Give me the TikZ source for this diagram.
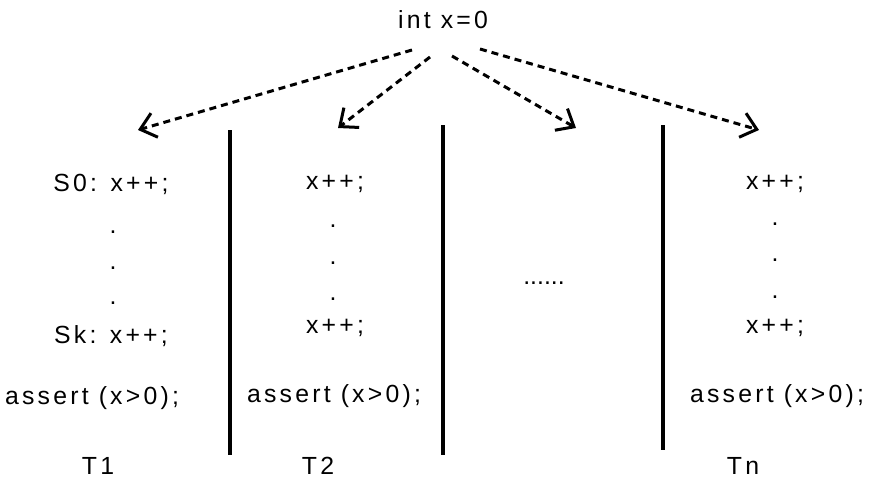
\documentclass[tikz,border=0pt]{standalone}
\usepackage{fontspec}
\setmainfont{Liberation Sans}[LetterSpace=13]
\usetikzlibrary{arrows.meta}

\begin{document}
\begin{tikzpicture}[
		x=0.5pt, y=-0.5pt,
		font=\fontsize{12.4}{14}\selectfont,
		code/.style={inner sep=0pt},
		spawn/.style={-{Straight Barb[length=2.6mm, width=4.4mm]}, line width=1.5pt, dash pattern=on 3.5pt off 2.5pt},
		sep/.style={line width=1.6pt}]
		\useasboundingbox (0,0) rectangle (869,477);

		\node[code] (init) at (443,20) {int x=0};
		\coordinate (s1) at (412,50);
		\coordinate (s2) at (430,57);
		\coordinate (s3) at (452,56);
		\coordinate (s4) at (480,49);
		\coordinate (t1) at (138,130);
		\coordinate (t2) at (338,128);
		\coordinate (t3) at (576,128);
		\coordinate (t4) at (759,130);
		\draw[spawn] (s1) -- (t1);
		\draw[spawn] (s2) -- (t2);
		\draw[spawn] (s3) -- (t3);
		\draw[spawn] (s4) -- (t4);

		% thread separators
		\draw[sep] (230,130) -- (230,455);
		\draw[sep] (443,125) -- (443,455);
		\draw[sep] (663,125) -- (663,450);

		% T1
		\node[code] (a0) at (111,184) {S0: x++;};
		\node[code] at (113,232) {.};
		\node[code] at (113,268) {.};
		\node[code] at (113,303) {.};
		\node[code] (ak) at (111,336) {Sk: x++;};
		\node[code] (aa) at (92,398) {assert (x>0);};
		\node[code] (T1) at (98,466) {T1};

		% T2
		\node[code] (b0) at (335,184) {x++;};
		\node[code] at (333,226) {.};
		\node[code] at (333,263) {.};
		\node[code] at (333,299) {.};
		\node[code] (bk) at (335,328) {x++;};
		\node[code] (ba) at (334,396) {assert (x>0);};
		\node[code] (T2) at (318,466) {T2};

		% other threads
		\node[code, font=\fontsize{12.4}{14}\addfontfeature{LetterSpace=0}] (dots) at (544,283) {......};

		% Tn
		\node[code] (n0) at (775,184) {x++;};
		\node[code] at (775,224) {.};
		\node[code] at (775,260) {.};
		\node[code] at (775,297) {.};
		\node[code] (nk) at (775,328) {x++;};
		\node[code] (na) at (777,396) {assert (x>0);};
		\node[code] (Tn) at (743,466) {Tn};
	\end{tikzpicture}
\end{document}
